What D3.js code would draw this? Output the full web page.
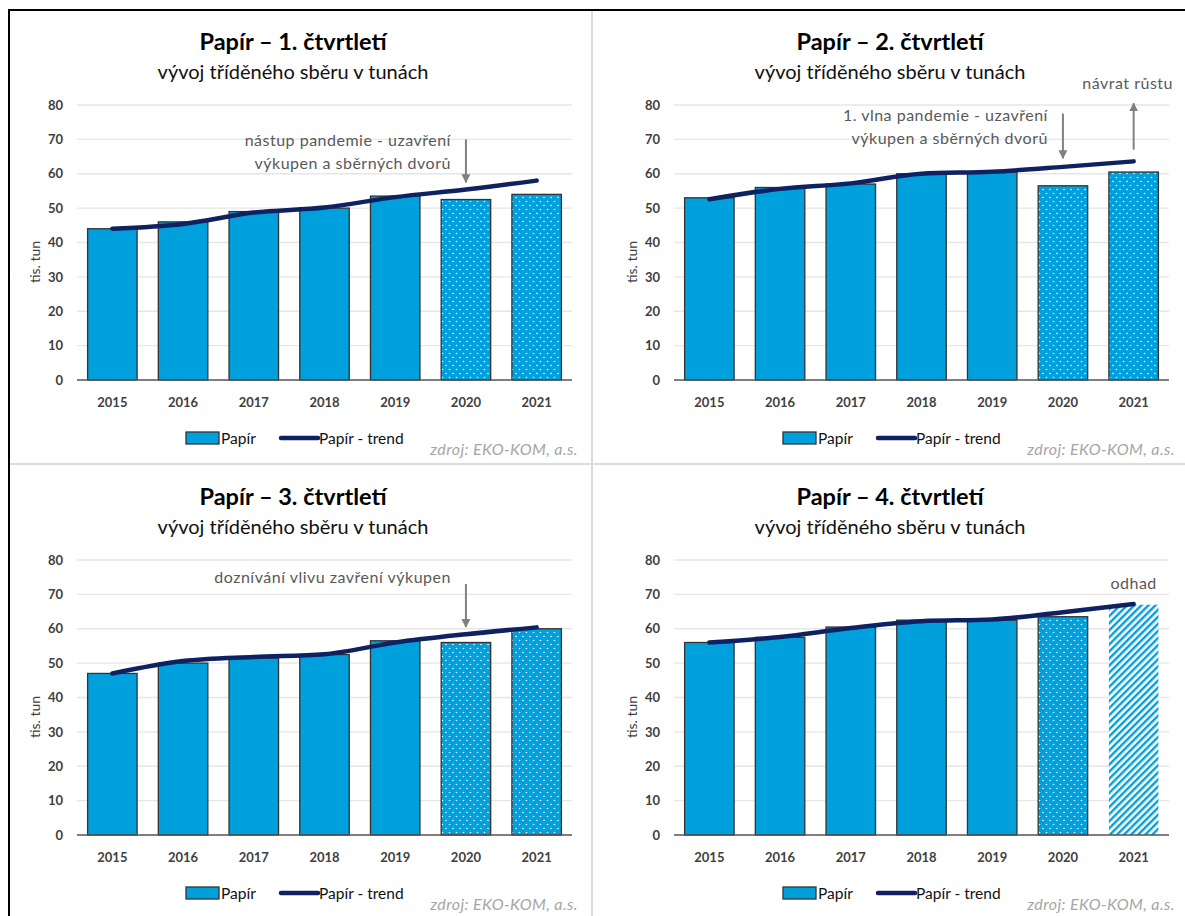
<!DOCTYPE html>
<html><head><meta charset="utf-8">
<script src="https://cdn.jsdelivr.net/npm/d3@7"></script>
<style>
html,body{margin:0;padding:0;background:#fff;}
svg{display:block;font-family:Lato,"Open Sans",sans-serif;}
</style></head>
<body>
<script>
// ---- data ----
const years = [2015, 2016, 2017, 2018, 2019, 2020, 2021];
const yTicks = [0, 10, 20, 30, 40, 50, 60, 70, 80];
const quarterTitles = ["Papír – 1. čtvrtletí", "Papír – 2. čtvrtletí", "Papír – 3. čtvrtletí", "Papír – 4. čtvrtletí"];
const subtitle = "vývoj tříděného sběru v tunách";
const q1Values = [44, 46, 49, 50, 53.5, 52.5, 54];
const q1Trend  = [44, 45.4, 48.7, 50.2, 53.2, 55.4, 58];
const q2Values = [53, 56, 57, 60, 60.5, 56.5, 60.5];
const q2Trend  = [52.6, 55.6, 57.2, 60, 60.6, 62, 63.6];
const q3Values = [47, 50, 51.5, 52.5, 56.5, 56, 60];
const q3Trend  = [47, 50.6, 51.8, 52.6, 56, 58.4, 60.4];
const q4Values = [56, 57.5, 60.5, 62.5, 62.5, 63.5, 67];
const q4Trend  = [56, 57.6, 60.2, 62.2, 62.7, 64.8, 67.2];
const q1Kinds = ["plain","plain","plain","plain","plain","dotted","dotted"];
const q2Kinds = ["plain","plain","plain","plain","plain","dotted","dotted"];
const q3Kinds = ["plain","plain","plain","plain","plain","dotted","dotted"];
const q4Kinds = ["plain","plain","plain","plain","plain","dotted","hatched"];
const seriesName = "Papír";
const trendName = "Papír - trend";
const yAxisTitle = "tis. tun";
const sourceText = "zdroj: EKO-KOM, a.s.";
// annotations: panel index, year anchor, text lines, arrow from/to values
const notes = [
  {panel:0, year:2020, lines:["nástup pandemie - uzavření","výkupen a sběrných dvorů"], from:70, to:57.5, textAt:68},
  {panel:1, year:2020, lines:["1. vlna pandemie - uzavření","výkupen a sběrných dvorů"], from:77.5, to:64.5, textAt:75.4},
  {panel:1, year:2021, lines:["návrat růstu"], from:67, to:80.5, textAt:84.6, above:true, dx:-6},
  {panel:2, year:2020, lines:["doznívání vlivu zavření výkupen"], from:73, to:60.5, textAt:73.3},
  {panel:3, year:2021, lines:["odhad"], from:null, to:null, textAt:71.5, above:true, dx:0}
];

const panels = [
  {values:q1Values, trend:q1Trend, kinds:q1Kinds, ox:0, oy:0},
  {values:q2Values, trend:q2Trend, kinds:q2Kinds, ox:597, oy:0},
  {values:q3Values, trend:q3Trend, kinds:q3Kinds, ox:0, oy:455},
  {values:q4Values, trend:q4Trend, kinds:q4Kinds, ox:597, oy:455}
];

const W = 1185, H = 916;
const svg = d3.select("body").append("svg").attr("width", W).attr("height", H);

const BLUE = "#00a0dc", NAVY = "#0e2160", AX = "#404040";
const defs = svg.append("defs");
const dot = defs.append("pattern").attr("id","dotted").attr("patternUnits","userSpaceOnUse")
  .attr("width",7).attr("height",8);
dot.append("rect").attr("width",7).attr("height",8).attr("fill",BLUE);
dot.append("circle").attr("cx",1.5).attr("cy",1.5).attr("r",0.8).attr("fill","#fff");
dot.append("circle").attr("cx",5).attr("cy",5.5).attr("r",0.8).attr("fill","#fff");
const hatch = defs.append("pattern").attr("id","hatched").attr("patternUnits","userSpaceOnUse")
  .attr("width",5).attr("height",5).attr("patternTransform","rotate(45)");
hatch.append("rect").attr("width",5).attr("height",5).attr("fill","#fff");
hatch.append("rect").attr("width",2.4).attr("height",5).attr("fill",BLUE);
const mk = defs.append("marker").attr("id","arrow").attr("viewBox","0 0 10 10").attr("refX",9).attr("refY",5)
  .attr("markerWidth",4.5).attr("markerHeight",4.5).attr("orient","auto-start-reverse").attr("markerUnits","strokeWidth");
mk.append("path").attr("d","M0,0 L10,5 L0,10 z").attr("fill","#808080");

// frame
svg.append("line").attr("x1",592).attr("x2",592).attr("y1",10).attr("y2",H).attr("stroke","#dcdcdc").attr("stroke-width",2);
svg.append("line").attr("x1",10).attr("x2",W).attr("y1",464).attr("y2",464).attr("stroke","#dcdcdc").attr("stroke-width",2);
svg.append("line").attr("x1",8).attr("x2",W).attr("y1",10).attr("y2",10).attr("stroke","#000").attr("stroke-width",2);
svg.append("line").attr("x1",9).attr("x2",9).attr("y1",9).attr("y2",H).attr("stroke","#000").attr("stroke-width",2);

const x = d3.scaleBand().domain(years).range([77, 572]).paddingInner(0.3).paddingOuter(0.15);
const y = d3.scaleLinear().domain([0, 80]).range([380, 105]);

panels.forEach((p, i) => {
  const g = svg.append("g").attr("transform", `translate(${p.ox},${p.oy})`);
  g.append("text").attr("x",293).attr("y",50).attr("text-anchor","middle")
    .attr("font-size",23.5).attr("font-weight","bold").attr("fill","#000").text(quarterTitles[i]);
  g.append("text").attr("x",293).attr("y",79).attr("text-anchor","middle")
    .attr("font-size",20).attr("fill","#111").text(subtitle);

  // gridlines
  g.append("g").selectAll("line").data(yTicks.filter(t => t > 0)).join("line")
    .attr("x1",77).attr("x2",572).attr("y1",d=>y(d)).attr("y2",d=>y(d))
    .attr("stroke","#e6e6e6").attr("stroke-width",1.3);

  // y axis labels
  const ya = g.append("g").attr("transform","translate(63,0)")
    .call(d3.axisLeft(y).tickValues(yTicks).tickSize(0).tickPadding(0));
  ya.select(".domain").remove();
  ya.selectAll("text").attr("font-size",13).attr("font-weight","bold").attr("fill",AX).attr("font-family","Lato, sans-serif");

  g.append("text").attr("transform","translate(40,262) rotate(-90)").attr("text-anchor","middle")
    .attr("font-size",14).attr("fill",AX).text(yAxisTitle);

  // bars
  g.append("g").selectAll("rect").data(years).join("rect")
    .attr("x", d => x(d)).attr("width", x.bandwidth())
    .attr("y", (d,j) => y(p.values[j])).attr("height", (d,j) => y(0) - y(p.values[j]))
    .attr("fill", (d,j) => p.kinds[j] === "plain" ? BLUE : `url(#${p.kinds[j]})`)
    .attr("stroke", (d,j) => p.kinds[j] === "hatched" ? "none" : "#333")
    .attr("stroke-width", 1.3);

  // x axis
  const xa = g.append("g").attr("transform",`translate(0,${y(0)})`)
    .call(d3.axisBottom(x).tickSize(0).tickPadding(18));
  xa.select(".domain").attr("stroke","#555").attr("stroke-width",1.5).attr("d","M77,0H572");
  xa.selectAll("text").attr("font-size",13).attr("font-weight","bold").attr("fill",AX).attr("font-family","Lato, sans-serif");

  // trend
  const line = d3.line().x((d,j) => x(years[j]) + x.bandwidth()/2).y(d => y(d)).curve(d3.curveMonotoneX);
  g.append("path").datum(p.trend).attr("d", line).attr("fill","none")
    .attr("stroke",NAVY).attr("stroke-width",4.5).attr("stroke-linecap","round");

  // annotations
  notes.filter(n => n.panel === i).forEach(n => {
    const cx = x(n.year) + x.bandwidth()/2;
    if (n.from !== null) {
      g.append("line").attr("x1",cx).attr("x2",cx).attr("y1",y(n.from)).attr("y2",y(n.to))
        .attr("stroke","#808080").attr("stroke-width",2).attr("marker-end","url(#arrow)");
    }
    n.lines.forEach((t, k) => {
      g.append("text").attr("x", n.above ? cx + n.dx : cx - 15).attr("y", y(n.textAt) + k*23)
        .attr("text-anchor", n.above ? "middle" : "end")
        .attr("font-size",16).attr("letter-spacing",0.5).attr("fill","#595959").text(t);
    });
  });

  // legend
  const lg = g.append("g").attr("transform","translate(0,438)");
  lg.append("rect").attr("x",186).attr("y",-6).attr("width",33).attr("height",12)
    .attr("fill",BLUE).attr("stroke","#333").attr("stroke-width",1.3);
  lg.append("text").attr("x",221).attr("y",5.5).attr("font-size",15.5).attr("fill","#111").text(seriesName);
  lg.append("line").attr("x1",281).attr("x2",318).attr("y1",0).attr("y2",0)
    .attr("stroke",NAVY).attr("stroke-width",4.5).attr("stroke-linecap","round");
  lg.append("text").attr("x",319).attr("y",5.5).attr("font-size",15.5).attr("fill","#111").text(trendName);
  g.append("text").attr("x",578).attr("y",455).attr("text-anchor","end")
    .attr("font-size",16).attr("letter-spacing",0.4).attr("font-style","italic").attr("fill","#a6a6a6").text(sourceText);
});
</script>
</body></html>
